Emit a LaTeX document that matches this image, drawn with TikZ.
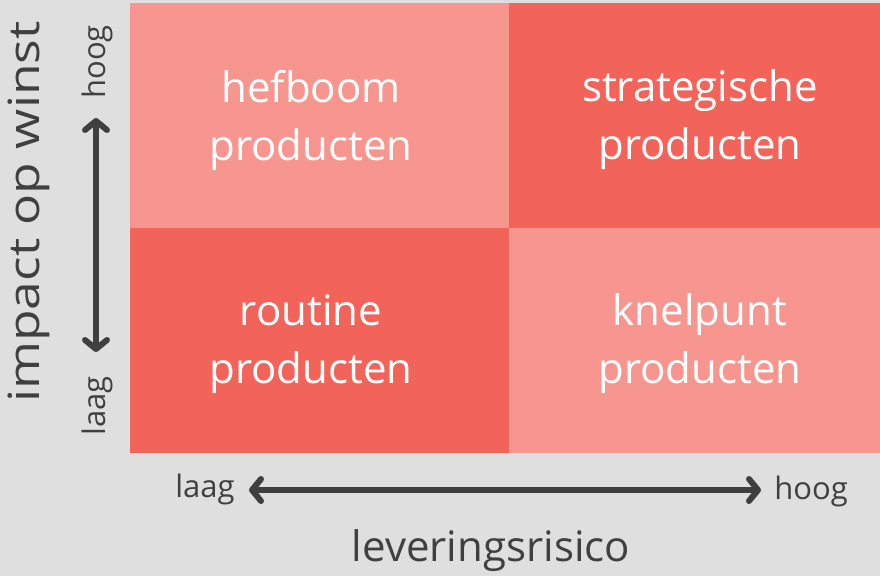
\documentclass[tikz,border=0pt]{standalone}
\usepackage{fontspec}
\setmainfont{Open Sans}
\newfontfamily\ylabfont[FakeStretch=1.2]{Open Sans}
\usetikzlibrary{arrows.meta}
\definecolor{bgc}{HTML}{DFDFDF}
\definecolor{lightq}{HTML}{F6968F}
\definecolor{strongq}{HTML}{F2635A}
\definecolor{arrowc}{HTML}{3F3F3F}
\definecolor{labelc}{HTML}{404040}
\begin{document}
\begin{tikzpicture}[x=1pt,y=-1pt,
  quad/.style={draw=none,minimum width=379pt,minimum height=225pt,inner sep=0pt,anchor=north west},
  quadtext/.style={text=white,font=\fontsize{42}{58}\selectfont,align=center},
  axisarrow/.style={draw=arrowc,line width=6pt,{Straight Barb[length=9pt,width=22pt,round,line width=6pt]}-{Straight Barb[length=9pt,width=22pt,round,line width=6pt]}},
  smalllabel/.style={text=labelc,font=\fontsize{31}{36}\selectfont,inner sep=0pt},
  biglabel/.style={text=labelc,font=\fontsize{42}{48}\selectfont,inner sep=0pt},
  ylabel/.style={text=labelc,font=\ylabfont\fontsize{43}{50}\selectfont,inner sep=0pt}]
\fill[bgc] (0,0) rectangle (880,576);
\useasboundingbox (0,0) rectangle (880,576);
\node[quad,fill=lightq] (q1) at (130,3) {};
\node[quad,fill=strongq] (q2) at (509,3) {};
\node[quad,fill=strongq] (q3) at (130,228) {};
\node[quad,fill=lightq,minimum width=371pt] (q4) at (509,228) {};
\node[quadtext] (t1) at (311,120) {hefboom\\producten};
\node[quadtext] (t2) at (700,120) {strategische\\producten};
\node[quadtext] (t3) at (311,344) {routine\\producten};
\node[quadtext] (t4) at (700,344) {knelpunt\\producten};
\coordinate (vtop) at (96,118);
\coordinate (vbot) at (96,352);
\draw[axisarrow] (vbot) -- (vtop);
\coordinate (hl) at (249,490);
\coordinate (hr) at (761,490);
\draw[axisarrow] (hl) -- (hr);
\node[smalllabel,rotate=90] (vhoog) at (97,62) {hoog};
\node[smalllabel,rotate=90] (vlaag) at (97,406) {laag};
\node[smalllabel] (hlaag) at (205,489) {laag};
\node[smalllabel] (hhoog) at (811,491) {hoog};
\node[ylabel,rotate=90] (ylab) at (29,212) {impact op winst};
\node[biglabel] (xlab) at (491,551) {leveringsrisico};
\end{tikzpicture}
\end{document}
